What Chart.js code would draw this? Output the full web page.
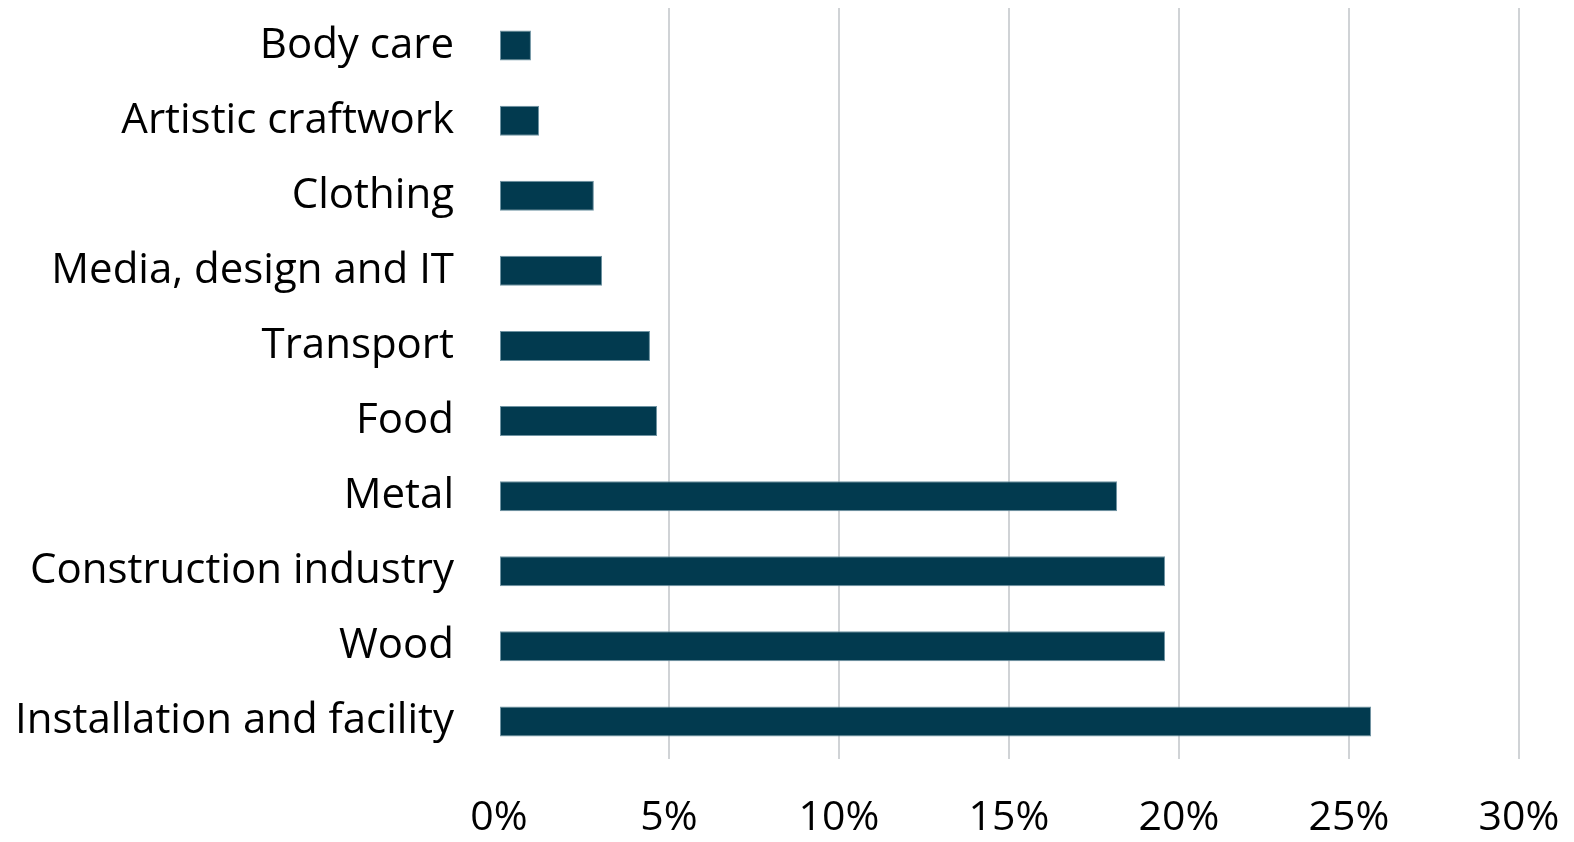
<!DOCTYPE html>
<html><head><meta charset="utf-8">
<script src="https://cdn.jsdelivr.net/npm/chart.js@4"></script>
<style>html,body{margin:0;padding:0;background:#fff;overflow:hidden}canvas{display:block}</style>
</head><body><canvas id="c" width="1574" height="842" style="width:1574px;height:842px"></canvas>
<script>
const categories = ["Body care","Artistic craftwork","Clothing","Media, design and IT","Transport","Food","Metal","Construction industry","Wood","Installation and facility"];
const shares = [0.94, 1.18, 2.79, 3.03, 4.44, 4.65, 18.18, 19.59, 19.59, 25.65];
const xTicks = [0, 5, 10, 15, 20, 25, 30];

const chart = new Chart(document.getElementById('c'), {
  type: 'bar',
  data: { labels: categories, datasets: [{ data: shares, backgroundColor: '#023a4f', borderColor: '#6f93a2', borderWidth: 1, borderSkipped: false, barPercentage: 0.4, categoryPercentage: 1 }] },
  options: {
    indexAxis: 'y', responsive: false, animation: false, devicePixelRatio: 1,
    layout: { padding: { left: 0, right: 55, top: 8, bottom: 0 } },
    plugins: { legend: { display: false }, tooltip: { enabled: false } },
    scales: {
      x: { min: 0, max: 30, afterBuildTicks: a => { a.ticks = xTicks.map(v => ({ value: v })); },
        afterFit: s => { s.paddingLeft = 0; s.paddingRight = 0; s.height = 83; },
        grid: { color: c => (c.tick && c.tick.value === 0) ? 'rgba(0,0,0,0)' : '#d0d3d6', lineWidth: 2, drawTicks: false },
        border: { display: false },
        ticks: { callback: v => v + '%', color: '#000', font: { family: 'Open Sans', size: 41 }, padding: 35, maxRotation: 0 } },
      y: { grid: { display: false }, border: { display: false },
        afterFit: s => { s.paddingTop = 0; s.paddingBottom = 0; s.width = 499; },
        ticks: { color: '#000', font: { family: 'Open Sans', size: 42 }, padding: 37 } }
    }
  }
});
</script></body></html>
